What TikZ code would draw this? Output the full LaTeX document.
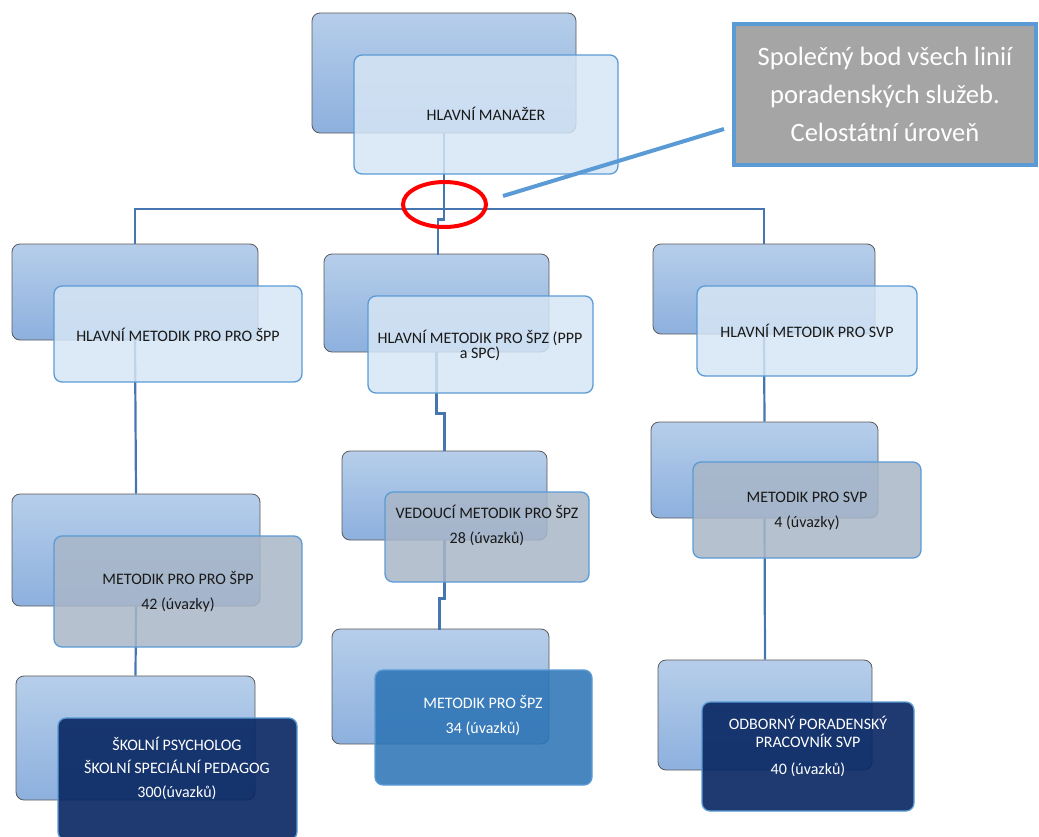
\documentclass[tikz,border=0pt]{standalone}
\usepackage{fontspec}
\setmainfont{Carlito}
\usetikzlibrary{shapes.geometric}
\definecolor{bltop}{HTML}{B6CEEA}
\definecolor{blbot}{HTML}{8DB0DE}
\definecolor{edgeblue}{HTML}{5B9BD5}
\definecolor{linkblue}{HTML}{4676B0}
\definecolor{lightfront}{HTML}{D6E5F4}
\definecolor{grayfront}{HTML}{A9B6C8}
\definecolor{bluefront}{HTML}{2E75B6}
\definecolor{navyfront}{HTML}{0B2964}
\definecolor{notegray}{HTML}{A5A5A5}
\begin{document}
\begin{tikzpicture}[x=1pt,y=-1pt,
  backbox/.style={draw=black!65,line width=0.8pt,rounded corners=8pt,top color=bltop,bottom color=blbot,inner sep=0pt},
  frontbox/.style={draw=edgeblue,line width=1.3pt,rounded corners=8pt,fill=#1,fill opacity=0.85,inner sep=0pt},
  lightbox/.style={frontbox=lightfront},
  graybox/.style={frontbox=grayfront},
  bluebox/.style={frontbox=bluefront,fill opacity=0.88},
  navybox/.style={frontbox=navyfront,fill opacity=0.92},
  conn/.style={draw=linkblue,line width=2.2pt},
  lbl/.style={align=center,text=#1,font=\fontsize{16}{19}\selectfont},lbl/.default=black!90]
\useasboundingbox (0,0) rectangle (1039,836);
% back boxes
\foreach \n/\x/\y/\w/\h in {b0/444/73/264/120,ba/135/292/246/96,bb/436.5/303/225/98,bc/764/289/222/90,
  bd/136/550/248/112,be/444.5/495.5/205/89,bf/764.5/470/227/96,bg/135.5/738/239/124,bh/440.5/686.5/217/115,bi/765/715/214/110}
  \node[backbox,minimum width=\w,minimum height=\h] (\n) at (\x,\y) {};
% connectors
\draw[conn] (b0.south) -- ++(0,86) -- ++(-6,0) |- (bb.north);
\draw[conn] (ba.north) -- ++(0,-35) -| (bc.north);
\draw[conn] (ba.south) -- (bd.north);
\draw[conn] (bd.south) -- (bg.north);
\draw[conn] (bb.south) -- ++(0,61) -- ++(8,0) |- (be.north);
\draw[conn] (be.south) -- ++(0,58) -- ++(-5,0) |- (bh.north);
\draw[conn] (bc.south) -- (bf.north);
\draw[conn] (bf.south) -- (bi.north);
% front boxes
\foreach \n/\x/\y/\w/\h/\s in {f0/486/114.5/264/119/lightbox,fa/178/334/248/96/lightbox,fb/480.5/344.5/225/97/lightbox,
  fc/807/331/220/90/lightbox,fd/178/591.5/248/111/graybox,fe/487/537/204/90/graybox,ff/807/510/228/96/graybox,
  fg/177.5/779/239/122/navybox,fh/483.5/727.5/217/115/bluebox,fi/808/756.5/212/109/navybox}
  \node[\s,minimum width=\w,minimum height=\h] (\n) at (\x,\y) {};
% texts
\node[lbl] (t0) at (486,114) {HLAVNÍ MANAŽER};
\node[lbl] (ta) at (178,335) {HLAVNÍ METODIK PRO PRO ŠPP};
\node[lbl] (tb) at (480,345) {HLAVNÍ METODIK PRO ŠPZ (PPP\\[-4pt] a SPC)};
\node[lbl] (tc) at (807,331) {HLAVNÍ METODIK PRO SVP};
\node[lbl] (td) at (178,592) {METODIK PRO PRO ŠPP\\[6pt] 42 (úvazky)};
\node[lbl] (te) at (487,525) {VEDOUCÍ METODIK PRO ŠPZ\\[6pt] 28 (úvazků)};
\node[lbl] (tf) at (807,511) {METODIK PRO SVP\\[6pt] 4 (úvazky)};
\node[lbl=white] (tg) at (177,768) {ŠKOLNÍ PSYCHOLOG\\[4.5pt] ŠKOLNÍ SPECIÁLNÍ PEDAGOG\\[4.5pt] 300(úvazků)};
\node[lbl=white] (th) at (483,716) {METODIK PRO ŠPZ\\[6pt] 34 (úvazků)};
\node[lbl=white] (ti) at (808,746) {ODBORNÝ PORADENSKÝ\\[-1pt] PRACOVNÍK SVP\\[8pt] 40 (úvazků)};
% note box and pointer
\node[draw=edgeblue,line width=4pt,fill=notegray,minimum width=302,minimum height=141,inner sep=0pt,
  align=center,text=white,font=\fontsize{26.5}{38}\selectfont] (note) at (885,94.5)
  {Společný bod všech linií\\ poradenských služeb.\\ Celostátní úroveň};
\coordinate (p) at (503,196);
\coordinate (q) at (724,129);
\draw[edgeblue,line width=4pt] (p) -- (q);
\node[ellipse,draw=red,line width=4pt,minimum width=83,minimum height=45,inner sep=0pt] (ring) at (444.5,204.5) {};
\end{tikzpicture}
\end{document}
